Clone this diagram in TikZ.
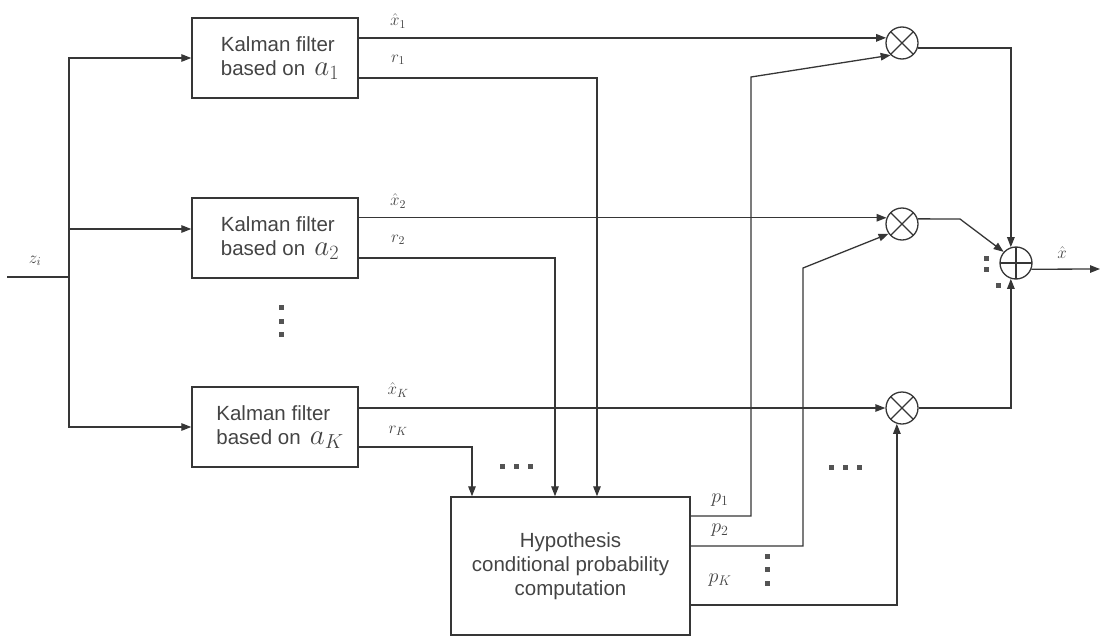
\RequirePackage{fix-cm}
\documentclass[tikz,border=0pt]{standalone}
\usepackage{fontspec}
\setmainfont{Liberation Sans}
\usetikzlibrary{arrows.meta,calc}
\definecolor{ln}{HTML}{363636}
\definecolor{tx}{HTML}{444444}

\begin{document}
\begin{tikzpicture}[x=1pt,y=-1pt,
  wire/.style={draw=ln, line width=1.3pt},
  arr/.style={wire, -{Triangle[length=10pt,width=7.5pt]}},
  kf/.style={rectangle, draw=ln, line width=1.4pt, minimum width=166pt,
    minimum height=80pt, inner sep=0pt, align=left, text=tx,
    font=\fontsize{20.5}{24}\selectfont},
  hypbox/.style={rectangle, draw=ln, line width=1.4pt, minimum width=239pt,
    minimum height=138pt, inner sep=0pt, align=center, text=tx,
    font=\fontsize{20.5}{24}\selectfont},
  mult/.style={circle, draw=ln, line width=1.3pt, minimum size=32pt, inner sep=0pt,
    path picture={\draw[ln, line width=1.2pt]
      (path picture bounding box.north west) -- (path picture bounding box.south east)
      (path picture bounding box.north east) -- (path picture bounding box.south west);}},
  adder/.style={circle, draw=ln, line width=1.3pt, minimum size=32pt, inner sep=0pt,
    path picture={\draw[ln, line width=1.2pt]
      (path picture bounding box.north) -- (path picture bounding box.south)
      (path picture bounding box.west) -- (path picture bounding box.east);}},
  lbl/.style={text=tx, inner sep=0pt, font=\fontsize{17}{20}\selectfont},
  plbl/.style={text=tx, inner sep=0pt, font=\fontsize{20}{22}\selectfont},
  dotsq/.style={rectangle, fill=ln!85, minimum size=5pt, inner sep=0pt}
]
\useasboundingbox (0,0) rectangle (1100,637);

% Kalman filter bank
\node[kf] (kf1) at (275,58) {\hspace*{10pt}Kalman filter\\\hspace*{10pt}based on \,{\fontsize{29}{24}\selectfont$a_1$}};
\node[kf] (kf2) at (275,238) {\hspace*{10pt}Kalman filter\\\hspace*{10pt}based on \,{\fontsize{29}{24}\selectfont$a_2$}};
\node[kf] (kfK) at (275,427) {\hspace*{10pt}Kalman filter\\\hspace*{10pt}based on \,{\fontsize{29}{24}\selectfont$a_K$}};

% probability computation
\node[hypbox] (hyp) at (570.5,566) {Hypothesis\\conditional probability\\computation};

% multipliers and adder
\node[mult] (m1) at (902,43) {};
\node[mult] (m2) at (902,224) {};
\node[mult] (mK) at (902,408) {};
\node[adder] (sum) at (1016,263) {};

% input distribution
\coordinate (zin) at (7,277);
\coordinate (split) at (69,277);
\node[lbl] (zlbl) at (35,261) {$z_i$};
\draw[wire] (zin) -- (split);
\draw[arr] (split) |- (kf1.west);
\draw[arr] (split) |- ([yshift=9pt]kf2.west);
\draw[arr] (split) |- (kfK.west);

% state estimates to multipliers
\draw[arr] (kf1.east |- m1.162) -- (m1.162);
\draw[arr] (kf2.east |- m2.158) -- (m2.158);
\draw[arr] (kfK.east |- mK.west) -- (mK.west);
\node[lbl] (xh1) at (398,21) {$\hat{x}_1$};
\node[lbl] (xh2) at (398,201) {$\hat{x}_2$};
\node[lbl] (xhK) at (398,390) {$\hat{x}_K$};

% residuals to probability computation
\draw[arr] ([yshift=-20pt]kf1.east) -| ([xshift=26.5pt]hyp.north);
\draw[arr] ([yshift=-20pt]kf2.east) -| ([xshift=-15.5pt]hyp.north);
\draw[arr] ([yshift=-20pt]kfK.east) -| ([xshift=-98.5pt]hyp.north);
\node[lbl] (r1) at (398,60) {$r_1$};
\node[lbl] (r2) at (398,240) {$r_2$};
\node[lbl] (rK) at (398,431) {$r_K$};

% probabilities to multipliers
\coordinate (p1bend) at (751,77);
\coordinate (p2bend) at (803,268);
\draw[arr] ([yshift=50pt]hyp.east) -| (p1bend) -- (m1.227);
\draw[arr] ([yshift=20pt]hyp.east) -| (p2bend) -- (m2.216);
\draw[arr] ([yshift=-39pt]hyp.east) -| (mK.252);
\node[plbl] (pl1) at (720,500) {$p_1$};
\node[plbl] (pl2) at (720,530) {$p_2$};
\node[plbl] (plK) at (720,580) {$p_K$};

% weighted sum
\coordinate (m2bend) at (960,219);
\coordinate (xout) at (1100,269);
\draw[arr] (m1.-18) -| (sum.108);
\draw[arr] (m2.18) -- (m2bend) -- (sum.138);
\draw[arr] (mK.east) -| (sum.252);
\draw[arr] (sum.-22) -- (xout);
\node[lbl] (xhat) at (1062,253) {$\hat{x}$};

% ellipsis marks
\foreach \y [count=\i] in {307,321,334} \node[dotsq] (va\i) at (281,\y) {};
\foreach \x [count=\i] in {502,516,530} \node[dotsq] (ha\i) at (\x,466) {};
\foreach \x [count=\i] in {831,845,859} \node[dotsq] (hb\i) at (\x,467) {};
\foreach \y [count=\i] in {556,569,583} \node[dotsq] (vb\i) at (767,\y) {};
\node[dotsq] (sd1) at (986,258) {};
\node[dotsq] (sd2) at (986,269) {};
\node[dotsq] (sd3) at (998,285) {};
\end{tikzpicture}
\end{document}
